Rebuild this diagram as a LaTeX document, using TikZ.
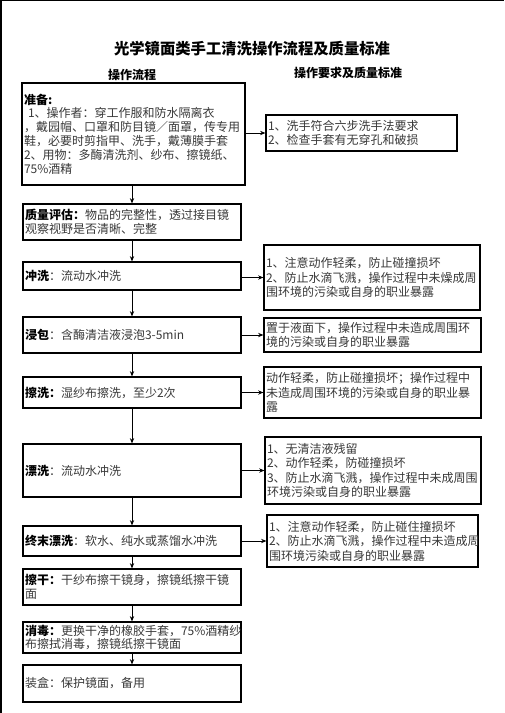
\documentclass[tikz,border=0pt]{standalone}
\usepackage{fontspec}
\setmainfont{Noto Sans CJK SC}
\usetikzlibrary{arrows.meta}
\begin{document}
\begin{tikzpicture}[x=0.75pt,y=-0.75pt,
  bb/.style n args={4}{at={({(#1+#3)/2},{(#2+#4)/2})},
    minimum width={(#3-#1)*0.75pt}, minimum height={(#4-#2)*0.75pt}},
  box/.style={draw, line width=0.8pt, inner sep=0pt, align=left,
    font=\fontsize{9pt}{10.4pt}\selectfont, text=black!78},
  rbox/.style={box, font=\fontsize{9pt}{10.9pt}\selectfont},
  arr/.style={-{Stealth[length=4pt,width=3.2pt]}, line width=0.6pt},
  hd/.style={inner sep=0pt, font=\fontsize{9pt}{10pt}\selectfont\bfseries}]
\useasboundingbox (0,0) rectangle (504,713);
\draw[line width=0.8pt] (0,0.5) -- (504,0.5);
\draw[line width=0.8pt] (1,0) -- (1,713);
% titles
\node[inner sep=0pt, font=\fontsize{11.5pt}{12pt}\selectfont\bfseries] (title) at (252,49) {光学镜面类手工清洗操作流程及质量标准};
\node[hd] (h1) at (132,75) {操作流程};
\node[hd] (h2) at (348,73) {操作要求及质量标准};
% left column
\node[box, bb={22}{83}{245}{185}, text width=164.25pt] (b1) {%
  \textbf{\color{black}准备:}\\
  \hspace*{3pt}1、操作者：穿工作服和防水隔离衣\\
  ，戴园帽、口罩和防目镜／面罩，传专用\\
  鞋，必要时剪指甲、洗手，戴薄膜手套\\
  2、用物：多酶清洗剂、纱布、擦镜纸、\\
  75\%酒精};
\node[box, bb={23}{204}{241}{240}, text width=160.5pt] (b2) {%
  \textbf{\color{black}质量评估：}物品的完整性，透过接目镜\\
  观察视野是否清晰、完整};
\node[box, bb={23}{262}{241}{290}, text width=160.5pt] (b3) {%
  \textbf{\color{black}冲洗}：流动水冲洗};
\node[box, bb={23}{317}{241}{353}, text width=160.5pt] (b4) {%
  \textbf{\color{black}浸包}：含酶清洁液浸泡3-5min};
\node[box, bb={23}{377}{241}{408}, text width=160.5pt] (b5) {%
  \textbf{\color{black}擦洗：}湿纱布擦洗，至少2次};
\node[box, bb={23}{444}{241}{497}, text width=160.5pt] (b6) {%
  \textbf{\color{black}漂洗}：流动水冲洗};
\node[box, bb={23}{526}{241}{556}, text width=160.5pt] (b7) {%
  \textbf{\color{black}终末漂洗}：软水、纯水或蒸馏水冲洗};
\node[box, bb={23}{569}{241}{605}, text width=160.5pt] (b8) {%
  \textbf{\color{black}擦干：}干纱布擦干镜身，擦镜纸擦干镜\\
  面};
\node[box, bb={23}{622}{241}{653}, text width=160.5pt] (b9) {%
  \textbf{\color{black}消毒：}更换干净的橡胶手套，75\%酒精纱\\
  布擦拭消毒，擦镜纸擦干镜面};
\node[box, bb={23}{665}{241}{702}, text width=160.5pt] (b10) {%
  装盒：保护镜面，备用};
% right column
\node[rbox, bb={266}{115}{457}{151}, text width=140.25pt] (r1) {%
  1、洗手符合六步洗手法要求\\
  2、检查手套有无穿孔和破损};
\node[rbox, bb={264}{245}{480}{310}, text width=159pt] (r2) {%
  1、注意动作轻柔，防止碰撞损坏\\
  2、防止水滴飞溅，操作过程中未燥成周\\
  围环境的污染或自身的职业暴露};
\node[rbox, bb={264}{318}{481}{352}, text width=159.75pt] (r3) {%
  置于液面下，操作过程中未造成周围环\\
  境的污染或自身的职业暴露};
\node[rbox, bb={264}{367}{481}{418}, text width=159.75pt] (r4) {%
  动作轻柔，防止碰撞损坏；操作过程中\\
  未造成周围环境的污染或自身的职业暴\\
  露};
\node[rbox, bb={265}{437}{481}{504}, text width=159pt] (r5) {%
  1、无清洁液残留\\
  2、动作轻柔，防碰撞损坏\\
  3、防止水滴飞溅，操作过程中未成周围\\
  环境污染或自身的职业暴露};
\node[rbox, bb={267}{515}{478}{567}, text width=155.25pt] (r6) {%
  1、注意动作轻柔，防止碰住撞损坏\\
  2、防止水滴飞溅，操作过程中未造成周\\
  围环境污染或自身的职业暴露};
% vertical arrows
\foreach \a/\b in {b1/b2,b2/b3,b3/b4,b4/b5,b5/b6,b6/b7,b7/b8,b8/b9,b9/b10}
  \draw[arr] (\a.south -| \b.north) -- (\b.north);
% horizontal arrows
\draw[arr] (r1.west -| b1.east) -- (r1.west);
\draw[arr] (r2.west -| b3.east) -- (r2.west);
\draw[arr] (r3.west -| b4.east) -- (r3.west);
\draw[arr] (r4.west -| b5.east) -- (r4.west);
\draw[arr] (b6.east) -- (b6.east -| r5.west);
\draw[arr] (r6.west -| b7.east) -- (r6.west);
\end{tikzpicture}
\end{document}
